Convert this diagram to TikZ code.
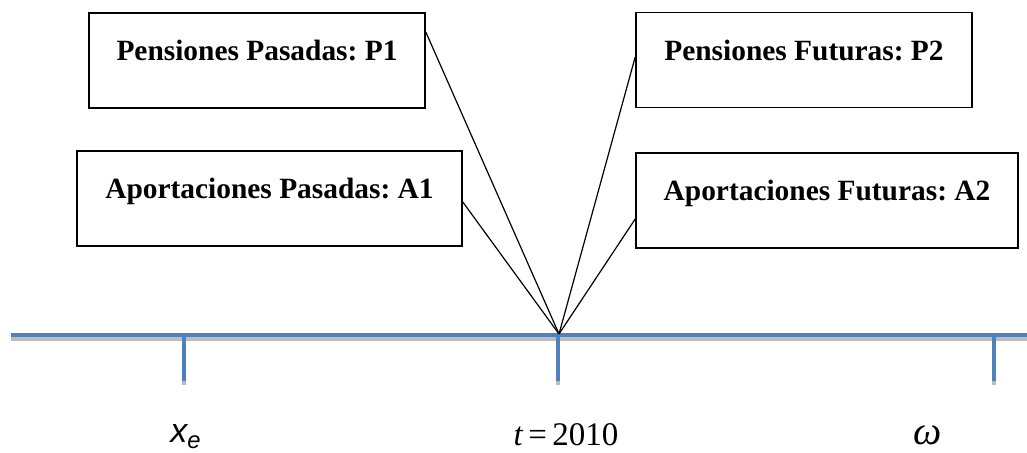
\documentclass[tikz,border=0pt]{standalone}
\usepackage{fontspec}
\setmainfont{Liberation Serif}
\setsansfont{Liberation Sans}
\frenchspacing
\definecolor{tlBlue}{HTML}{4F81BD}
\definecolor{tlShade}{HTML}{BDBDBD}
\tikzset{
  tl box/.style={draw=black, line width=0.8pt, inner sep=0pt, minimum width=168pt, text height=24pt, text depth=23.5pt, font=\fontsize{14.7}{17}\selectfont\bfseries},
  tl axis/.style={draw=tlBlue, line width=2pt},
  tl shade/.style={draw=tlShade, line width=2pt},
  tl link/.style={draw=black, line width=0.6pt},
  tl label/.style={font=\fontsize{16.5}{19}\selectfont, anchor=base},
}

\begin{document}
\begin{tikzpicture}[x=0.5pt,y=-0.5pt]
  \useasboundingbox (0,0) rectangle (1027,453);
  % shadow of the time axis and its ticks
  \draw[tl shade] (11,339) -- (1027,339);
  \foreach \x in {184,558,994}
    \draw[tl shade] (\x,339) -- (\x,385);
  % time axis
  \draw[tl axis] (11,335) -- (1027,335);
  \foreach \x in {184,558,994}
    \draw[tl axis] (\x,335) -- (\x,381);
  \coordinate (hoy) at (559,334);
  % boxes
  \node[tl box] (pasP) at (257,60.5) {Pensiones Pasadas: P1};
  \node[tl box] (futP) at (804,60) {Pensiones Futuras: P2};
  \node[tl box, minimum width=192.5pt] (pasA) at (269.5,198.5) {Aportaciones Pasadas: A1};
  \node[tl box, minimum width=191pt] (futA) at (827,200.5) {Aportaciones Futuras: A2};
  % links to the present
  \draw[tl link] ([yshift=14.25pt]pasP.east) -- (hoy);
  \draw[tl link] ([yshift=-1.75pt]pasA.east) -- (hoy);
  \draw[tl link] ([yshift=1.5pt]futP.west) -- (hoy);
  \draw[tl link] ([yshift=-9.25pt]futA.west) -- (hoy);
  % labels under the axis
  \node[tl label, font=\fontsize{17}{20}\selectfont\sffamily\itshape] (edadE) at (186,443) {x\textsubscript{e}};
  \node[tl label] (anio) at (566,446) {{\itshape t}\,=\,2010};
  \node[tl label, font=\fontsize{20}{23}\selectfont\itshape] (omega) at (928,445) {ω};
\end{tikzpicture}
\end{document}
